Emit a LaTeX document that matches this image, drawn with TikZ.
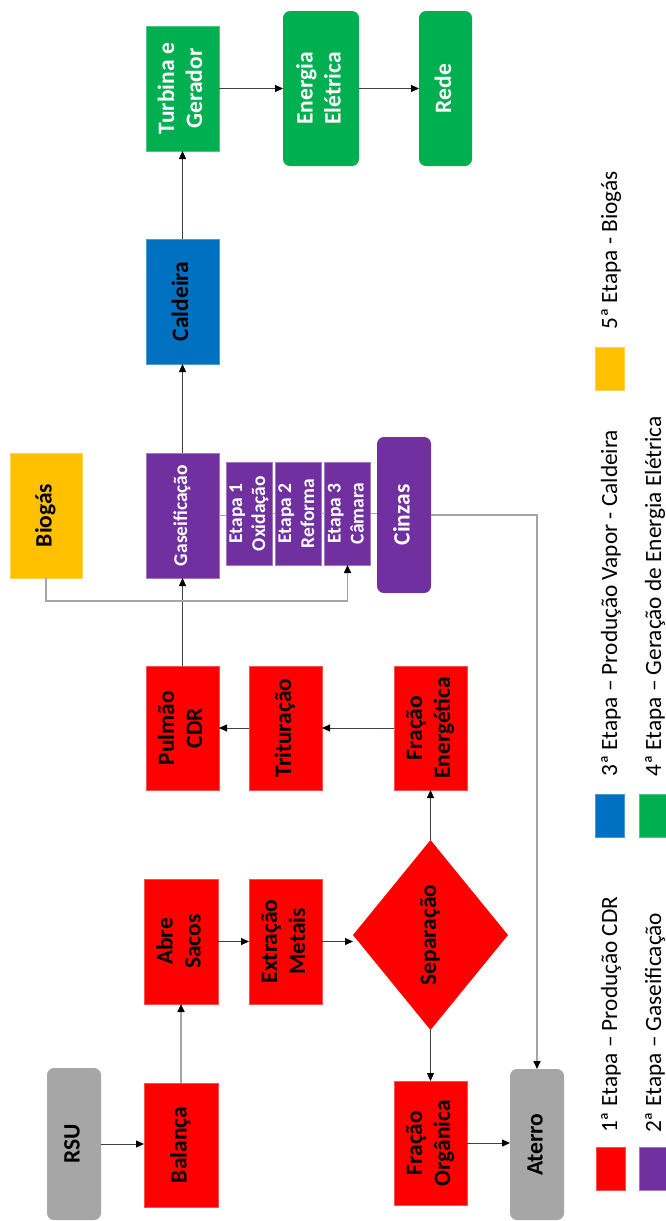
\documentclass[tikz,border=0pt]{standalone}
\usepackage{fontspec}
\setmainfont{Carlito}
\usepackage{graphicx}
\usetikzlibrary{arrows.meta,shapes.geometric}

\definecolor{cred}{HTML}{FF0000}
\definecolor{cpurple}{HTML}{7030A0}
\definecolor{cblue}{HTML}{0070C0}
\definecolor{cgreen}{HTML}{00B050}
\definecolor{cyellow}{HTML}{FFC000}
\definecolor{cgray}{HTML}{A6A6A6}
\definecolor{cline}{HTML}{404040}
\definecolor{clinegray}{HTML}{A5A5A5}

% text set vertically, reading upwards
\newcommand{\vtext}[1]{\rotatebox{90}{\begin{tabular}{@{}c@{}}#1\end{tabular}}}

\begin{document}
\begin{tikzpicture}[x=1pt,y=-1pt,
  size/.style 2 args={minimum width=#1pt, minimum height=#2pt},
  base/.style={inner sep=0pt, outer sep=0pt, line width=0.6pt,
    font=\fontsize{23.5}{28}\selectfont\bfseries},
  redbox/.style={base, rectangle, fill=cred, draw=cred!70!white, text=black},
  reddiamond/.style={base, diamond, fill=cred, text=black},
  purplebox/.style={base, rectangle, fill=cpurple, draw=cpurple!65!white, text=white},
  purpround/.style={base, rectangle, rounded corners=7pt, fill=cpurple, text=white},
  bluebox/.style={base, rectangle, fill=cblue, draw=cblue!70!white, text=black},
  greenbox/.style={base, rectangle, fill=cgreen, draw=cgreen!70!white, text=white},
  greenround/.style={base, rectangle, rounded corners=7pt, fill=cgreen, text=white},
  yellowbox/.style={base, rectangle, fill=cyellow, draw=cyellow!70!white, text=black},
  graybox/.style={base, rectangle, rounded corners=7pt, fill=cgray, text=black},
  smalltext/.style={font=\fontsize{19.5}{23}\selectfont\bfseries},
  darkarrow/.style={draw=cline, line width=0.9pt, -{Triangle[length=8pt,width=7pt,color=black]}},
  grayarrow/.style={draw=clinegray, line width=1.6pt, -{Triangle[length=8pt,width=7pt,color=black]}},
  grayline/.style={draw=clinegray, line width=1.6pt},
  legsq/.style={rectangle, inner sep=0pt, line width=0.6pt, minimum width=29pt, minimum height=43pt},
  legtext/.style={rotate=90, inner sep=0pt, anchor=base west, font=\fontsize{23.3}{27}\selectfont}
]
\useasboundingbox (0,0) rectangle (666,1221);
\fill[white] (0,0) rectangle (666,1221);

% 1st stage: CDR production
\node[graybox, size={54}{152}] (rsu) at (74,1144) {\vtext{RSU}};
\node[redbox, size={74}{124}] (balanca) at (181,1145) {\vtext{Balança}};
\node[redbox, size={74}{125}] (abre) at (181,941.5) {\vtext{Abre\\Sacos}};
\node[redbox, size={73}{125}] (extracao) at (285.5,941.5) {\vtext{Extração\\Metais}};
\node[reddiamond, size={155}{190}] (separacao) at (430.5,935) {\vtext{Separação}};
\node[redbox, size={73}{124}] (fracorg) at (430.5,1143) {\vtext{Fração\\Orgânica}};
\node[graybox, size={54}{151}] (aterro) at (537,1144.5) {\vtext{Aterro}};
\node[redbox, size={73}{124}] (fracen) at (430.5,728) {\vtext{Fração\\Energética}};
\node[redbox, size={73}{124}] (tritur) at (285.5,728) {\vtext{Trituração}};
\node[redbox, size={73}{124}] (pulmao) at (182.5,728) {\vtext{Pulmão\\CDR}};

% 2nd stage: gasification
\node[purplebox, smalltext, size={73}{125}] (gaseif) at (182.5,515.5) {\vtext{Gaseificação}};
\node[purplebox, smalltext, size={44}{103}] (etapa1) at (249,513.5) {\vtext{Etapa 1\\Oxidação}};
\node[purplebox, smalltext, size={44}{103}] (etapa2) at (298,513.5) {\vtext{Etapa 2\\Reforma}};
\node[purplebox, smalltext, size={45}{103}] (etapa3) at (347.5,513.5) {\vtext{Etapa 3\\Câmara}};
\node[purpround, size={54}{156}] (cinzas) at (404,515) {\vtext{Cinzas}};

% 5th stage: biogas
\node[yellowbox, size={72}{125}] (biogas) at (46,515.5) {\vtext{Biogás}};

% 3rd and 4th stages: steam and power
\node[bluebox, size={73}{125}] (caldeira) at (182.5,301.5) {\vtext{Caldeira}};
\node[greenbox, size={73}{125}] (turbina) at (182.5,88.5) {\vtext{Turbina e\\Gerador}};
\node[greenround, size={76}{155}] (energia) at (321,88.5) {\vtext{Energia\\Elétrica}};
\node[greenround, size={53}{155}] (rede) at (445.5,88.5) {\vtext{Rede}};

% connectors
\draw[darkarrow] (rsu.east) -- (rsu.east -| balanca.west);
\draw[grayarrow] (balanca.north) -- (abre.south);
\draw[darkarrow] (abre.east) -- (extracao.west);
\draw[darkarrow] (extracao.east) -- (extracao.east -| separacao.west);
\draw[darkarrow] (separacao.south) -- (fracorg.north);
\draw[darkarrow] (fracorg.east) -- (fracorg.east -| aterro.west);
\draw[darkarrow] (separacao.north) -- (fracen.south);
\draw[darkarrow] (fracen.west) -- (tritur.east);
\draw[darkarrow] (tritur.west) -- (pulmao.east);
\draw[darkarrow] (pulmao.north) -- (gaseif.south);
\draw[darkarrow] (gaseif.north) -- (caldeira.south);
\draw[darkarrow] (caldeira.north) -- (turbina.south);
\draw[darkarrow] (turbina.east) -- (energia.west);
\draw[darkarrow] (energia.east) -- (rede.west);
\draw[grayarrow] (biogas.south) -- ++(0,23) -| (etapa3.south);
\draw[grayline] (gaseif.east) -- (gaseif.east -| etapa1.west);
\draw[grayline] (etapa1.east) -- (etapa2.west);
\draw[grayline] (etapa2.east) -- (etapa3.west);
\draw[grayline] (etapa3.east) -- (etapa3.east -| cinzas.west);
\draw[grayarrow] (cinzas.east) -| (aterro.north);

% legend
\node[legsq, fill=cred, draw=cred!70!white] (l1) at (610.5,1168.5) {};
\node[legsq, fill=cpurple, draw=cpurple!65!white] (l2) at (653.5,1168.5) {};
\node[legsq, fill=cblue, draw=cblue!70!white] (l3) at (610,815.5) {};
\node[legsq, fill=cgreen, draw=cgreen!70!white] (l4) at (653.5,815.5) {};
\node[legsq, fill=cyellow, draw=cyellow!70!white] (l5) at (610,368.5) {};
\node[legtext] (t1) at (617,1133) {1ª Etapa – Produção CDR};
\node[legtext] (t2) at (661,1133) {2ª Etapa – Gaseificação};
\node[legtext] (t3) at (617,777) {3ª Etapa – Produção Vapor - Caldeira};
\node[legtext] (t4) at (661,777) {4ª Etapa – Geração de Energia Elétrica};
\node[legtext] (t5) at (617,330) {5ª Etapa - Biogás};
\end{tikzpicture}
\end{document}
